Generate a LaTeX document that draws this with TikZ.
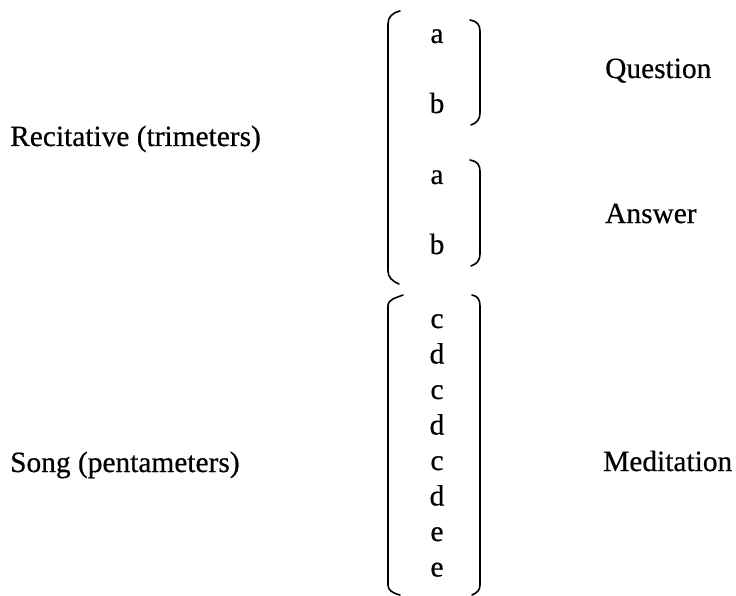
\documentclass[tikz,border=0pt]{standalone}
\usepackage{fontspec}
\setmainfont{Liberation Serif}[FakeBold=0.5]
\begin{document}
\begin{tikzpicture}[x=1pt, y=-1pt,
  txt/.style={inner sep=0pt, font=\fontsize{29.4}{32}\selectfont},
  lbl/.style={txt, anchor=base west},
  rhyme/.style={txt, anchor=base},
  bracket/.style={line width=1.6pt, line cap=round}]
\useasboundingbox (0,0) rectangle (736,596);

% labels on the left
\node[lbl] (recit) at (10,146) {Recitative (trimeters)};
\node[lbl] (song)  at (10,472) {Song (pentameters)};

% labels on the right
\node[lbl] (quest) at (605,78)  {Question};
\node[lbl] (answ)  at (605,223) {Answer};
\node[lbl] (medit) at (603,471) {Meditation};

% rhyme scheme
\node[rhyme] (r1) at (437,43)  {a};
\node[rhyme] (r2) at (437,113) {b};
\node[rhyme] (r3) at (437,184) {a};
\node[rhyme] (r4) at (437,254) {b};
\foreach \ch [count=\i from 0] in {c,d,c,d,c,d,e,e}
  \node[rhyme] (s\i) at (437,{328+35.5*\i}) {\ch};

% left brackets
\draw[bracket] (400,11) .. controls (392,13) and (388,17) .. (388,24)
  -- (388,271) .. controls (388,277) and (392,281) .. (399,284);
\draw[bracket] (403,295) .. controls (396,298) and (388,299) .. (388,306)
  -- (388,585) .. controls (388,590) and (392,593) .. (400,595);

% right brackets
\draw[bracket] (470,20) .. controls (477,21) and (480,25) .. (480,31)
  -- (480,113) .. controls (480,119) and (477,123) .. (471,125);
\draw[bracket] (470,160) .. controls (477,161) and (480,165) .. (480,171)
  -- (480,254) .. controls (480,260) and (477,264) .. (471,266);
\draw[bracket] (472,295) .. controls (478,296) and (480,300) .. (480,306)
  -- (480,585) .. controls (480,590) and (477,593) .. (472,595);
\end{tikzpicture}
\end{document}
